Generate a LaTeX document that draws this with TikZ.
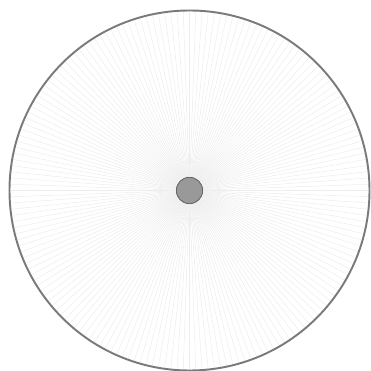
\documentclass[tikz,border=0pt]{standalone}
\usepackage{tikz}

\begin{document}
\begin{tikzpicture}[x=0.02cm, y=0.02cm, ray/.style={draw=black!7, line width=0.3pt}, rim/.style={draw=black!52, line width=1.1pt}, hub/.style={circle, draw=black!60, fill=black!40, line width=0.6pt, minimum size=0.53cm, inner sep=0pt}]
	\useasboundingbox (-189.5,-180.5) rectangle (181.5,190.5);
	\node[hub] (c) at (0,0) {};
	\foreach \a in {0,2,...,358}
		\draw[ray] (c.\a) -- (\a:179) coordinate (r\a);
	\draw[rim] (c.center) circle (180);
\end{tikzpicture}
\end{document}
